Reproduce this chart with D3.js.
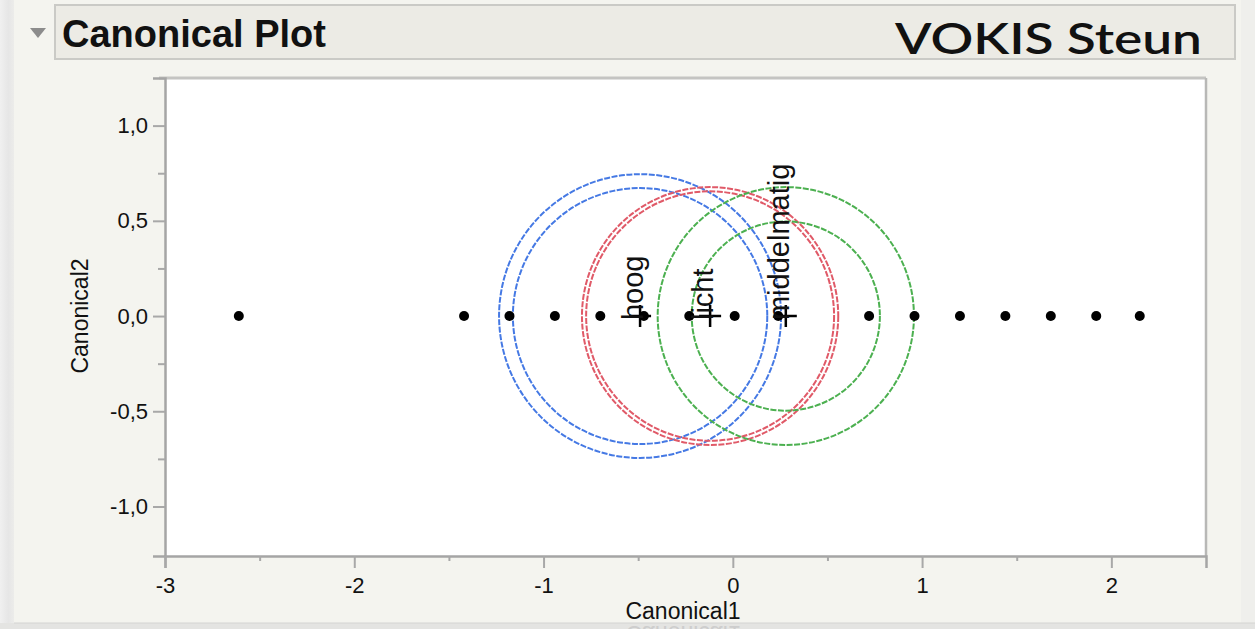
<!DOCTYPE html>
<html>
<head>
<meta charset="utf-8">
<script src="https://cdn.jsdelivr.net/npm/d3@7"></script>
<style>
  html, body { margin: 0; padding: 0; background: #f4f4ef; }
  svg { display: block; }
</style>
</head>
<body>
<svg id="chart" width="1255" height="629"></svg>
<script>
// Canonical scores of the observations (all on Canonical2 = 0)
const scoreC1 = [-2.61, -1.42, -1.18, -0.94, -0.70, -0.47, -0.23, 0.01, 0.24, 0.72, 0.96, 1.20, 1.44, 1.68, 1.92, 2.15];
const scoreC2 = [0, 0, 0, 0, 0, 0, 0, 0, 0, 0, 0, 0, 0, 0, 0, 0];

// Group means and their circles
const groups = ["hoog", "licht", "middelmatig"];
const meanC1 = [-0.49, -0.12, 0.28];
const meanC2 = [0, 0, 0];
const outerRadius = [0.745, 0.677, 0.677];
const innerRadius = [0.672, 0.655, 0.497];

// Axis ticks
const xTicks = [-3, -2, -1, 0, 1, 2];
const xMinorTicks = [-2.5, -1.5, -0.5, 0.5, 1.5];
const yTicks = [-1, -0.5, 0, 0.5, 1];
const yMinorTicks = [-0.75, -0.25, 0.25, 0.75];

const groupColor = ["#4579e4", "#e05a68", "#4cb050"];

const svg = d3.select("#chart");
const W = 1255, H = 629;

// panel background and edges
svg.append("rect").attr("x", 0).attr("y", 0).attr("width", W).attr("height", H).attr("fill", "#f4f4ef");
const lg = svg.append("defs").append("linearGradient").attr("id", "leftEdge");
lg.append("stop").attr("offset", "0%").attr("stop-color", "#f0f0f0");
lg.append("stop").attr("offset", "60%").attr("stop-color", "#e6e6e6");
lg.append("stop").attr("offset", "100%").attr("stop-color", "#ececea");
svg.append("rect").attr("x", 0).attr("y", 0).attr("width", 14).attr("height", H).attr("fill", "url(#leftEdge)");
svg.append("rect").attr("x", 1241).attr("y", 0).attr("width", 14).attr("height", H).attr("fill", "#efefec");

// header bar
svg.append("rect").attr("x", 55).attr("y", 5).attr("width", 1180).attr("height", 54)
  .attr("fill", "#ecebe5").attr("stroke", "#cacac6").attr("stroke-width", 2);
svg.append("path").attr("d", "M30,28 L46,28 L38,38 Z").attr("fill", "#8c8c8c");
svg.append("text").attr("x", 62).attr("y", 47)
  .attr("font-family", "Liberation Sans, Arial, sans-serif").attr("font-weight", "bold")
  .attr("font-size", 38).attr("fill", "#111").text("Canonical Plot");
svg.append("text").attr("x", 895).attr("y", 54)
  .attr("font-family", "Lato, sans-serif").attr("font-weight", 600)
  .attr("font-size", 43).attr("fill", "#111")
  .attr("textLength", 307).attr("lengthAdjust", "spacingAndGlyphs")
  .text("VOKIS Steun");

// plot frame
const plotLeft = 165, plotRight = 1206, plotTop = 78, plotBottom = 556;
const x = d3.scaleLinear().domain([-3, 2.5]).range([plotLeft, plotRight]);
const y = d3.scaleLinear().domain([-1.26, 1.25]).range([plotBottom, plotTop]);

svg.append("rect").attr("x", plotLeft).attr("y", plotTop)
  .attr("width", plotRight - plotLeft).attr("height", plotBottom - plotTop)
  .attr("fill", "#ffffff");
svg.append("line").attr("x1", plotLeft - 6).attr("x2", plotRight).attr("y1", plotTop).attr("y2", plotTop)
  .attr("stroke", "#c4c4c2").attr("stroke-width", 3);
svg.append("line").attr("x1", plotRight).attr("x2", plotRight).attr("y1", plotTop).attr("y2", plotBottom)
  .attr("stroke", "#b8b8b6").attr("stroke-width", 2.5);

const labelFont = "Liberation Sans, Arial, sans-serif";
const fmt = v => d3.format(".1f")(v).replace(".", ",").replace("−", "-");

// y axis
svg.append("g").attr("transform", `translate(${plotLeft},0)`)
  .call(d3.axisLeft(y).tickValues(yTicks).tickSize(12).tickPadding(5).tickFormat(fmt));
svg.append("g").attr("transform", `translate(${plotLeft},0)`)
  .call(d3.axisLeft(y).tickValues(yMinorTicks).tickSize(7).tickFormat(""))
  .call(g => g.select(".domain").remove());

// x axis
const xAxis = svg.append("g").attr("transform", `translate(0,${plotBottom})`)
  .call(d3.axisBottom(x).tickValues(xTicks).tickSize(12).tickPadding(9).tickFormat(d3.format("d")));
svg.append("g").attr("transform", `translate(0,${plotBottom})`)
  .call(d3.axisBottom(x).tickValues(xMinorTicks).tickSize(5).tickFormat(""))
  .call(g => g.select(".domain").remove());

svg.selectAll(".domain").attr("stroke", "#a5a5a5").attr("stroke-width", 2.5);
svg.selectAll(".tick line").attr("stroke", "#a8a8a8").attr("stroke-width", 2);
svg.selectAll(".tick text").attr("font-family", labelFont).attr("font-size", 22).attr("fill", "#111");
xAxis.selectAll(".tick text").text(d => String(d).replace("−", "-"));

// axis titles
svg.append("text").attr("x", 683).attr("y", 619).attr("text-anchor", "middle")
  .attr("font-family", labelFont).attr("font-size", 23).attr("fill", "#111").text("Canonical1");
svg.append("text").attr("transform", "translate(88,316) rotate(-90)").attr("text-anchor", "middle")
  .attr("font-family", labelFont).attr("font-size", 23).attr("fill", "#111").text("Canonical2");

// bottom strip with the faint mirrored axis title
svg.append("rect").attr("x", 0).attr("y", 623).attr("width", W).attr("height", 6).attr("fill", "#e4e4e2");
svg.append("line").attr("x1", 14).attr("x2", W).attr("y1", 623).attr("y2", 623).attr("stroke", "#d4d4d2").attr("stroke-width", 1);
svg.append("text").attr("transform", "translate(683,626) scale(1,-1)").attr("text-anchor", "middle")
  .attr("font-family", labelFont).attr("font-size", 23).attr("fill", "#cdcdcd").text("Canonical1");

// circles around the group means
const plot = svg.append("g");
const ringData = [];
groups.forEach((g, i) => {
  ringData.push({ i, r: outerRadius[i] });
  ringData.push({ i, r: innerRadius[i] });
});
plot.selectAll("ellipse.ring").data(ringData).join("ellipse")
  .attr("class", "ring")
  .attr("cx", d => x(meanC1[d.i]))
  .attr("cy", d => y(meanC2[d.i]))
  .attr("rx", d => x(d.r) - x(0))
  .attr("ry", d => y(0) - y(d.r))
  .attr("fill", "none")
  .attr("stroke", d => groupColor[d.i])
  .attr("stroke-width", 2)
  .attr("stroke-dasharray", "6 1.5");

// observation points
plot.selectAll("circle.obs").data(scoreC1).join("circle")
  .attr("class", "obs")
  .attr("cx", d => x(d))
  .attr("cy", (d, i) => y(scoreC2[i]))
  .attr("r", 5)
  .attr("fill", "#000");

// group mean markers and labels
groups.forEach((g, i) => {
  const cx = x(meanC1[i]), cy = y(meanC2[i]);
  plot.append("path")
    .attr("d", `M${cx - 11},${cy} H${cx + 11} M${cx},${cy - 11} V${cy + 11}`)
    .attr("stroke", "#000").attr("stroke-width", 2.5);
  plot.append("text")
    .attr("transform", `translate(${cx + 3},${cy + 4}) rotate(-90)`)
    .attr("font-family", labelFont).attr("font-size", 29).attr("fill", "#111")
    .text(g);
});
</script>
</body>
</html>
